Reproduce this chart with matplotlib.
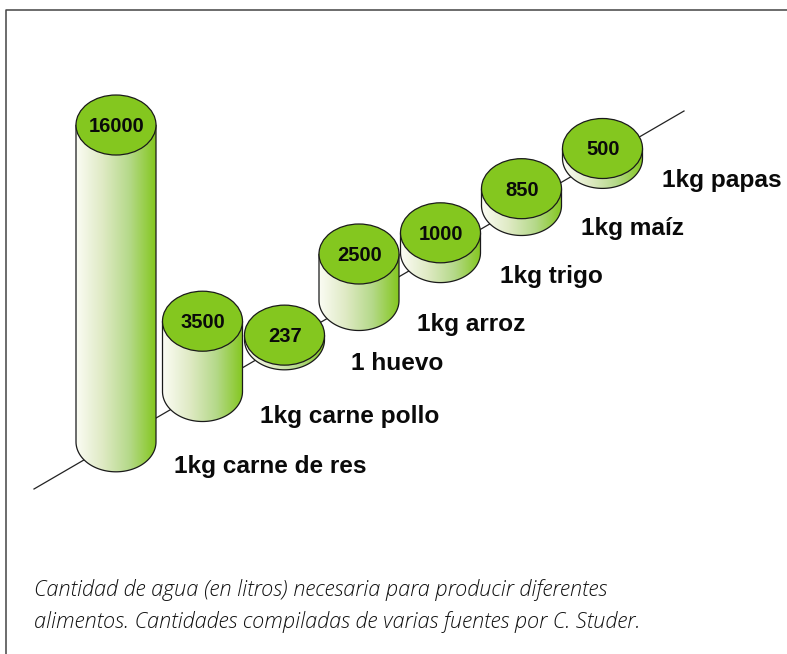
import numpy as np
import matplotlib
matplotlib.use("Agg")
import matplotlib.pyplot as plt
from matplotlib.colors import LinearSegmentedColormap
from matplotlib.patches import Ellipse, PathPatch
from matplotlib.path import Path

# Data
labels = ["1kg carne de res", "1kg carne pollo", "1 huevo", "1kg arroz",
          "1kg trigo", "1kg maíz", "1kg papas"]
litros = [16000, 3500, 237, 2500, 1000, 850, 500]
caption = ["Cantidad de agua (en litros) necesaria para producir diferentes",
           "alimentos. Cantidades compiladas de varias fuentes por C. Studer."]

# Layout in pixels
W, H = 787, 654
GREEN = "#84c71f"
axis_start, axis_end = (34, 489), (684, 111)
centres_x = [116, 202.5, 284.5, 359, 440.5, 521.5, 602.5]
base_nudge = [0.5, 0.5, -3.5, 0.5, 0, 0, 0]
height_nudge = [0, 1, 0, -3, 0, 0, 0]
label_pos = [(174, 467), (260, 416), (351, 363), (417, 324), (500, 276), (581, 228), (662, 180)]
px_per_litre = 0.0198
rx, ry = 40, 30

fig = plt.figure(figsize=(W / 100, H / 100), dpi=100)
ax = fig.add_axes([0, 0, 1, 1])
ax.set_xlim(0, W)
ax.set_ylim(H, 0)
ax.axis("off")

# Frame
ax.plot([W, 6, 6], [10, 10, H], color="#444444", lw=1.1, zorder=1)
# Diagonal axis
ax.plot([axis_start[0], axis_end[0]], [axis_start[1], axis_end[1]], color="#222222", lw=0.9, zorder=2)

slope = (axis_end[1] - axis_start[1]) / (axis_end[0] - axis_start[0])
cmap = LinearSegmentedColormap.from_list("g", ["#fbfcf4", "#dfeac4", "#b5d98a", GREEN])
grad = np.linspace(0, 1, 256).reshape(1, -1)

for i, (cx, v, name) in enumerate(zip(centres_x, litros, labels)):
    base = axis_start[1] + slope * (cx - axis_start[0]) + base_nudge[i]
    top = base - v * px_per_litre - height_nudge[i]
    z = 10 + i * 3
    t = np.linspace(np.pi, 0, 80)
    xs = cx + rx * np.cos(t)
    ys = base + ry * np.sin(t)
    verts = [(cx - rx, top)] + list(zip(xs, ys)) + [(cx + rx, top), (cx - rx, top)]
    codes = [Path.MOVETO] + [Path.LINETO] * (len(verts) - 2) + [Path.CLOSEPOLY]
    side = PathPatch(Path(verts, codes), fc="none", ec="#1a1a1a", lw=0.9, zorder=z + 1)
    ax.add_patch(side)
    im = ax.imshow(grad, extent=[cx - rx, cx + rx, base + ry, top], cmap=cmap, aspect="auto",
                   interpolation="bilinear", zorder=z)
    im.set_clip_path(PathPatch(Path(verts, codes), transform=ax.transData))
    ax.add_patch(Ellipse((cx, top), 2 * rx, 2 * ry, fc=GREEN, ec="#1a1a1a", lw=0.9, zorder=z + 2))
    ax.text(cx + 0.5, top + 1.5, f"{v}", ha="center", va="center", fontsize=14.5, fontweight="bold",
            family="Liberation Sans", color="#0a0a0a", zorder=z + 2.5)
    lx, ly = label_pos[i]
    ax.text(lx, ly, name, ha="left", va="center", fontsize=17.6, fontweight="bold",
            family="Liberation Sans", color="#0a0a0a", zorder=40)

ax.set_xlim(0, W)
ax.set_ylim(H, 0)

for s, y in zip(caption, [590, 622]):
    ax.text(34, y, s, ha="left", va="center", fontsize=15.7, style="italic", fontweight="light",
            family="Open Sans", color="#111111", zorder=40)

fig.savefig("out.png", dpi=100, facecolor="white")
